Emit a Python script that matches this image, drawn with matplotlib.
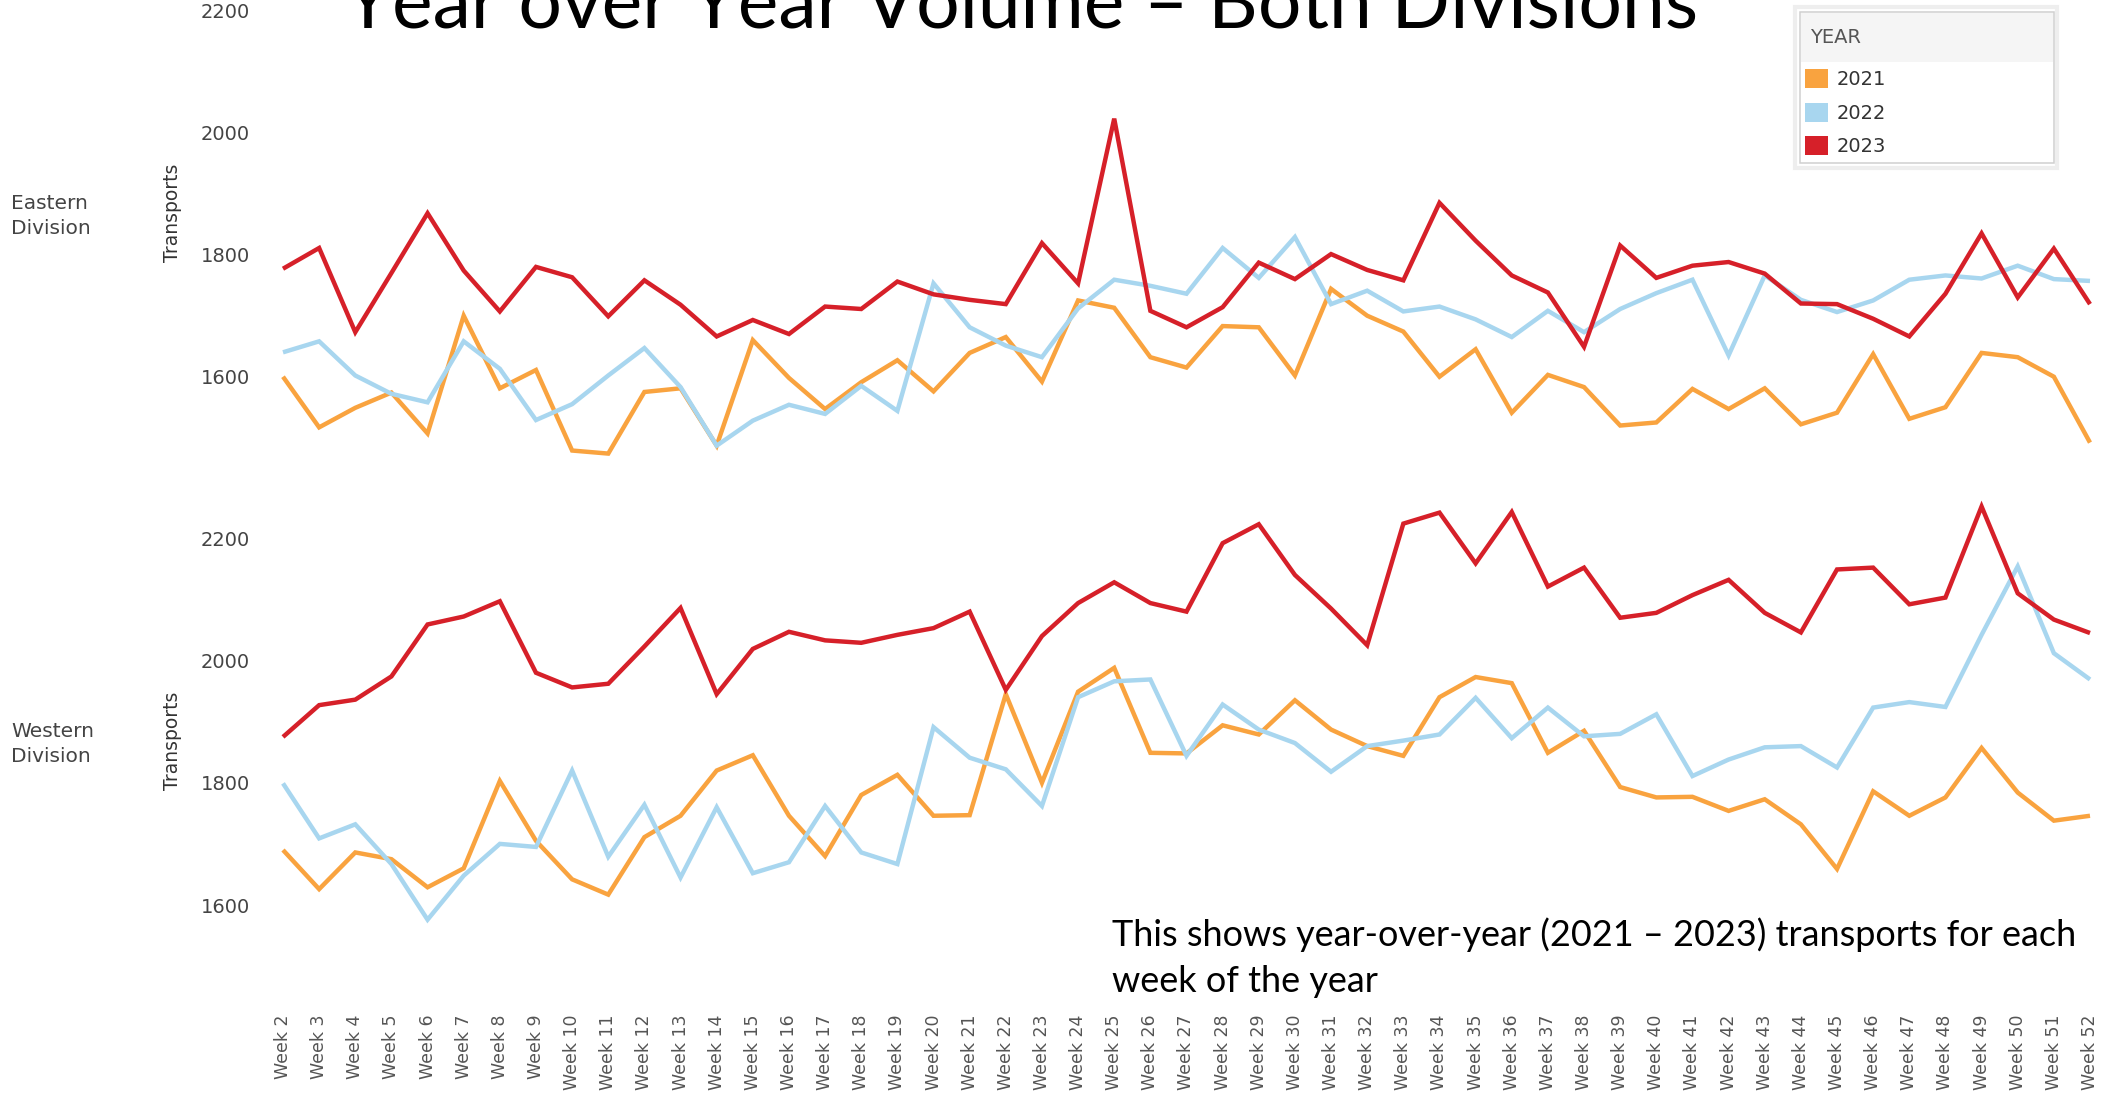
import matplotlib
matplotlib.use("Agg")
import matplotlib.pyplot as plt
from matplotlib.patches import Patch, Rectangle

W, H, DPI = 2105, 1094, 100

weeks = [f"Week {n}" for n in range(2, 53)]
years = ["2021", "2022", "2023"]
colors = {"2021": "#F9A33F", "2022": "#A8D6EF", "2023": "#D62029"}

east_2021 = [1600, 1517, 1549, 1574, 1507, 1700, 1581, 1611, 1479, 1474,
             1575, 1581, 1487, 1660, 1598, 1547, 1591, 1627, 1576, 1639,
             1665, 1592, 1725, 1713, 1632, 1615, 1683, 1681, 1602, 1744,
             1700, 1674, 1600, 1645, 1541, 1603, 1583, 1520, 1525, 1580,
             1547, 1581, 1522, 1541, 1637, 1531, 1550, 1639, 1632, 1600,
             1492]
east_2022 = [1640, 1658, 1602, 1572, 1558, 1658, 1613, 1529, 1555, 1602,
             1647, 1583, 1487, 1528, 1554, 1539, 1585, 1544, 1753, 1681,
             1651, 1632, 1712, 1759, 1749, 1736, 1811, 1762, 1829, 1719,
             1741, 1707, 1715, 1694, 1665, 1708, 1673, 1711, 1737, 1759,
             1635, 1766, 1726, 1706, 1725, 1759, 1766, 1761, 1782, 1760,
             1757]
east_2023 = [1777, 1811, 1673, 1770, 1868, 1774, 1707, 1780, 1763, 1699,
             1758, 1718, 1666, 1693, 1670, 1715, 1711, 1756, 1735, 1726,
             1719, 1819, 1753, 2023, 1708, 1681, 1714, 1787, 1760, 1801,
             1775, 1758, 1885, 1823, 1766, 1738, 1649, 1815, 1762, 1782,
             1788, 1769, 1720, 1719, 1695, 1666, 1736, 1835, 1730, 1810,
             1719]

west_2021 = [1690, 1626, 1686, 1675, 1629, 1660, 1803, 1705, 1642, 1617,
             1711, 1746, 1820, 1845, 1746, 1680, 1780, 1813, 1746, 1747,
             1945, 1800, 1949, 1988, 1849, 1848, 1894, 1879, 1935, 1887,
             1860, 1844, 1940, 1973, 1963, 1849, 1885, 1793, 1776, 1777,
             1754, 1773, 1732, 1659, 1786, 1746, 1776, 1857, 1784, 1738,
             1746]
west_2022 = [1799, 1709, 1732, 1667, 1576, 1648, 1700, 1695, 1820, 1679,
             1764, 1645, 1760, 1652, 1670, 1762, 1686, 1667, 1891, 1841,
             1822, 1762, 1940, 1966, 1969, 1844, 1928, 1887, 1865, 1818,
             1860, 1869, 1879, 1939, 1873, 1923, 1876, 1880, 1912, 1811,
             1838, 1858, 1860, 1825, 1923, 1932, 1924, 2042, 2154, 2012,
             1969]
west_2023 = [1875, 1927, 1936, 1974, 2059, 2072, 2097, 1980, 1956, 1962,
             2023, 2086, 1945, 2019, 2047, 2033, 2029, 2042, 2053, 2080,
             1952, 2040, 2094, 2128, 2094, 2080, 2192, 2223, 2140, 2085,
             2025, 2224, 2242, 2159, 2243, 2121, 2152, 2070, 2078, 2107,
             2132, 2078, 2046, 2149, 2152, 2092, 2103, 2252, 2110, 2067,
             2045]

y_ticks = [1600, 1800, 2000, 2200]
title = "Year over Year Volume \u2013 Both Divisions"
note_1 = "This shows year-over-year (2021 \u2013 2023) transports for each"
note_2 = "week of the year"

fig = plt.figure(figsize=(W / DPI, H / DPI), dpi=DPI)
fig.patch.set_facecolor("white")


def px_axes(left, top, right, bottom):
    return fig.add_axes([left / W, 1 - bottom / H, (right - left) / W, (bottom - top) / H])


def px_rect(left, top, right, bottom, **kw):
    return Rectangle((left / W, 1 - bottom / H), (right - left) / W, (bottom - top) / H,
                     transform=fig.transFigure, **kw)


ax_e = px_axes(262, 0, 2105, 480)
ax_w = px_axes(262, 490, 2105, 1005)
x = list(range(len(weeks)))

panels = [
    (ax_e, [east_2021, east_2022, east_2023], (1430.7, 2217.5)),
    (ax_w, [west_2021, west_2022, west_2023], (1436.4, 2279.0)),
]
for ax, series, ylim in panels:
    for yr, vals in zip(years, series):
        ax.plot(x, vals, color=colors[yr], lw=3.2, solid_joinstyle="miter",
                solid_capstyle="butt")
    ax.set_xlim(-0.581, 50.415)
    ax.set_ylim(*ylim)
    ax.set_yticks(y_ticks)
    ax.set_yticklabels([str(v) for v in y_ticks])
    for s in ax.spines.values():
        s.set_visible(False)
    ax.tick_params(axis="y", length=0, pad=8.6, labelsize=14, labelcolor="#444444")
    ax.set_facecolor("none")

ax_e.set_xticks([])
ax_w.set_xticks(x)
ax_w.set_xticklabels(weeks, rotation=90, fontsize=12.5, color="#555555")
ax_w.tick_params(axis="x", length=0, pad=7)

# Row headers and axis titles
fig.text(11 / W, 1 - 216 / H, "Eastern\nDivision", fontsize=14.5, color="#444444",
         ha="left", va="center", linespacing=1.45)
fig.text(11 / W, 1 - 744 / H, "Western\nDivision", fontsize=14.5, color="#444444",
         ha="left", va="center", linespacing=1.45)
for yc in (213, 741):
    fig.text(173 / W, 1 - yc / H, "Transports", rotation=90, ha="center", va="center",
             fontsize=13.5, color="#333333")

# Title and note
t_title = fig.text(344 / W, 1 - 27 / H, title, fontsize=50, family="Lato",
                   color="black", ha="left", va="baseline")
t_n1 = fig.text(1112 / W, 1 - 946 / H, note_1, fontsize=24, family="Lato",
                color="black", ha="left", va="baseline")
t_n2 = fig.text(1112 / W, 1 - 992 / H, note_2, fontsize=24, family="Lato",
                color="black", ha="left", va="baseline")


def fit(texts, target):
    for _ in range(2):
        fig.canvas.draw()
        r = fig.canvas.get_renderer()
        w = texts[0].get_window_extent(r).width
        fs = texts[0].get_fontsize() * target / w
        for t in texts:
            t.set_fontsize(fs)


fit([t_title], 1354)
fit([t_n1, t_n2], 963)

# Legend box (card with header band)
fig.add_artist(px_rect(1795, 7, 2057, 168, facecolor="white", edgecolor="#eeeeee",
                       lw=3, zorder=4.6))
fig.add_artist(px_rect(1800, 12, 2054, 163, facecolor="white", edgecolor="#d0d0d0",
                       lw=1.1, zorder=4.7))
fig.add_artist(px_rect(1801, 13, 2053, 62, facecolor="#f5f5f5", edgecolor="none",
                       zorder=4.8))
fig.text(1810 / W, 1 - 37.5 / H, "YEAR", fontsize=14, color="#555555",
         ha="left", va="center", zorder=5)

fs_leg = 14
fs_px = fs_leg * DPI / 72
handles = [Patch(facecolor=colors[y], edgecolor="none", label=y) for y in years]
leg = fig.legend(handles=handles, loc="upper left",
                 bbox_to_anchor=(1805 / W, 1 - 69 / H),
                 frameon=False, fontsize=fs_leg,
                 handlelength=23 / fs_px, handleheight=22 / fs_px,
                 handletextpad=9 / fs_px, labelspacing=13.5 / fs_px, borderpad=0,
                 borderaxespad=0)
for t in leg.get_texts():
    t.set_color("#333333")

fig.savefig("out.png", dpi=DPI)
